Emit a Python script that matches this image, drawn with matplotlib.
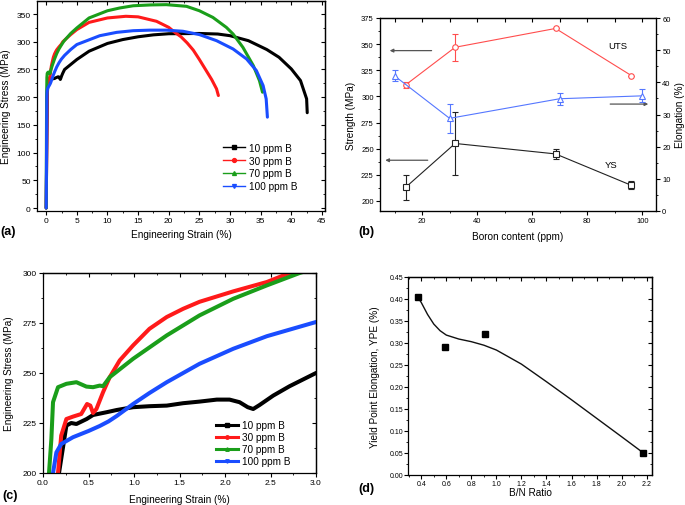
import matplotlib
matplotlib.use("Agg")
import matplotlib.pyplot as plt
from matplotlib.ticker import MultipleLocator, FormatStrFormatter
from matplotlib.lines import Line2D

plt.rcParams['font.family'] = ['Liberation Sans', 'DejaVu Sans']

# ---------------- data ----------------
series_labels = ["10 ppm B", "30 ppm B", "70 ppm B", "100 ppm B"]
series_colors = ["#000000", "#ff1a1a", "#1a9e1a", "#1a4dff"]
series_markers = ["s", "o", "^", "v"]

strain_10 = [0, 0.176, 0.257, 0.31, 0.367, 0.48, 0.55, 0.7, 0.81, 0.99, 1.17, 1.36, 1.54,
             1.72, 1.91, 2.05, 2.16, 2.25, 2.31, 2.38, 2.53, 2.71, 3.0, 4, 5, 7, 10, 12.5, 15,
             17.5, 20, 25, 28, 30, 33, 36, 38, 40, 41.5, 42.5, 42.6]
stress_10 = [0, 200, 223.7, 225, 224.5, 227, 229, 230.4, 231.5, 232.9, 233.4, 233.7, 234.9,
             235.7, 236.7, 236.7, 235.4, 232.9, 232, 234, 238.7, 243.4, 250, 259, 268, 283, 297, 304, 309,
             312.5, 314.5, 315, 314, 311, 302, 286, 272, 251, 230, 197, 172]

strain_30 = [0, 0.165, 0.2, 0.257, 0.33, 0.42, 0.484, 0.52, 0.55, 0.587, 0.66, 0.733, 0.843,
             0.99, 1.17, 1.36, 1.54, 1.72, 2.09, 2.46, 2.71, 3.0, 4, 5, 7, 10, 13, 15, 18, 20,
             21, 22, 23, 24, 25, 26, 27, 27.8, 28.1]
stress_30 = [0, 200, 218.7, 227, 228.2, 229.5, 234.5, 233.7, 230, 232, 240.4, 247.9, 256.3,
             263.8, 272.1, 278, 282.1, 285.6, 290.8, 295.5, 300, 303, 313, 322, 335, 343, 346, 345, 337, 326,
             317, 309, 298, 285, 268, 250, 232, 215, 203]

strain_70 = [0, 0.066, 0.092, 0.11, 0.165, 0.257, 0.367, 0.477, 0.55, 0.623, 0.66, 0.733, 0.99,
             1.36, 1.72, 2.09, 2.46, 2.82, 3.0, 4, 5, 7, 10, 12, 14.2, 17, 19.6, 22.9, 25, 27.2,
             29.4, 30.5, 32.1, 33.8, 34.8, 35.3]
stress_70 = [0, 200, 217, 235.4, 242.9, 244.6, 245.4, 243.2, 242.9, 243.7, 243.4, 247.9, 257.1,
             268.8, 278.8, 287.1, 293.8, 300, 302.5, 315, 325, 343, 356, 361, 365, 366.5, 367, 364, 356, 344,
             326, 314, 290, 257, 230, 209]

strain_100 = [0, 0.11, 0.147, 0.2, 0.33, 0.5, 0.623, 0.72, 0.81, 0.9, 0.99, 1.17, 1.36, 1.72, 2.09,
              2.46, 3.0, 4, 5, 8.75, 11.5, 14.2, 16.9, 19.6, 22.3, 25, 27.8, 30.5, 32.7, 34.3, 35.4,
              35.9, 36.1]
stress_100 = [0, 200, 210.3, 214.5, 217.9, 221, 223.5, 225.8, 228.5, 231.5, 234.5, 240, 245.4, 254.6, 262.1,
              268.4, 275.5, 286, 295, 311, 317, 320, 321, 321, 319, 313, 302, 287, 269, 248, 221,
              197, 164]

strains = [strain_10, strain_30, strain_70, strain_100]
stresses = [stress_10, stress_30, stress_70, stress_100]

# panel (b)
boron_strength = [14, 32, 68.5, 96]
uts = [311, 347, 365, 320]
uts_err = [2.5, 13, 0, 0]
ys = [213, 255, 245, 215]
ys_err = [12, 30, 5, 4]
boron_elong = [10, 30, 70, 100]
elong = [42, 28.8, 34.9, 35.8]
elong_err = [1.7, 4.6, 1.9, 2.0]

# panel (d)
bn_ratio = [0.37, 0.59, 0.91, 2.17]
ype = [0.405, 0.29, 0.32, 0.05]
fit_x = [0.37, 0.40, 0.45, 0.50, 0.55, 0.60, 0.70, 0.80, 0.90, 1.00, 1.20, 1.40, 1.60, 1.80, 2.00, 2.17]
fit_y = [0.405, 0.392, 0.365, 0.343, 0.328, 0.318, 0.309, 0.303, 0.295, 0.284, 0.252, 0.212, 0.171, 0.129, 0.087, 0.051]

# ---------------- figure ----------------
W, H = 685, 506
fig = plt.figure(figsize=(W / 100, H / 100), dpi=100)


def px_axes(l, t, r, b):
    return fig.add_axes([l / W, 1 - b / H, (r - l) / W, (b - t) / H])


def setup_ticks(ax, xmaj, xmin, ymaj, ymin, size, top=True, right=True, maj_len=3, pad=1.5):
    ax.xaxis.set_major_locator(MultipleLocator(xmaj))
    ax.xaxis.set_minor_locator(MultipleLocator(xmin))
    ax.yaxis.set_major_locator(MultipleLocator(ymaj))
    ax.yaxis.set_minor_locator(MultipleLocator(ymin))
    ax.tick_params(which='both', direction='out', top=False, right=False, labelsize=size, pad=pad)
    ax.tick_params(which='major', length=maj_len, width=0.8)
    ax.tick_params(which='minor', length=maj_len * 0.55, width=0.6)
    for sp in ax.spines.values():
        sp.set_linewidth(0.9)
    if top:
        sx = ax.secondary_xaxis('top')
        sx.xaxis.set_major_locator(MultipleLocator(xmaj))
        sx.xaxis.set_minor_locator(MultipleLocator(xmin))
        sx.tick_params(which='both', direction='in', labeltop=False)
        sx.tick_params(which='major', length=maj_len, width=0.8)
        sx.tick_params(which='minor', length=maj_len * 0.55, width=0.6)
        sx.spines['top'].set_linewidth(0.9)
    if right:
        sy = ax.secondary_yaxis('right')
        sy.yaxis.set_major_locator(MultipleLocator(ymaj))
        sy.yaxis.set_minor_locator(MultipleLocator(ymin))
        sy.tick_params(which='both', direction='in', labelright=False)
        sy.tick_params(which='major', length=maj_len, width=0.8)
        sy.tick_params(which='minor', length=maj_len * 0.55, width=0.6)
        sy.spines['right'].set_linewidth(0.9)


LBL = 7.2

# ---------- (a) ----------
ax_a = px_axes(37, 2, 325, 212)
for s, st, c in zip(strains, stresses, series_colors):
    ax_a.plot(s, st, color=c, lw=2.2, solid_joinstyle='round', solid_capstyle='round')
ax_a.set_xlim(-1.5, 45.5)
ax_a.set_ylim(-5.4, 373.6)
setup_ticks(ax_a, 5, 2.5, 50, 25, 6)
ax_a.set_xlabel("Engineering Strain (%)", fontsize=LBL)
ax_a.set_ylabel("Engineering Stress (MPa)", fontsize=LBL)
ax_a.xaxis.set_label_coords(0.5, -0.086)
ax_a.yaxis.set_label_coords(-0.09, 0.5)
handles_a = [Line2D([], [], color=c, lw=1.0, marker=m, markersize=2.8)
             for c, m in zip(series_colors, series_markers)]
ax_a.legend(handles_a, series_labels, loc='upper left', bbox_to_anchor=(0.645, 0.325),
            frameon=False, fontsize=LBL, handlelength=2.2, labelspacing=0.28,
            handletextpad=0.4, borderpad=0, borderaxespad=0)

# ---------- (b) ----------
ax_b = px_axes(380, 19, 656, 212)
ax_b.errorbar(boron_strength, uts, yerr=uts_err, color="#ff4d4d", lw=0.8, marker='o',
              markersize=4, mfc='white', mec="#ff4d4d", mew=0.8, capsize=2.2, elinewidth=0.8)
ax_b.errorbar(boron_strength, ys, yerr=ys_err, color="#222222", lw=0.8, marker='s',
              markersize=3.8, mfc='white', mec="#222222", mew=0.8, capsize=2.2, elinewidth=0.8)
ax_b.set_xlim(4.7, 105)
ax_b.set_ylim(190.4, 375)
ax_b.xaxis.set_major_locator(MultipleLocator(20))
ax_b.xaxis.set_minor_locator(MultipleLocator(10))
ax_b.yaxis.set_major_locator(MultipleLocator(25))
ax_b.yaxis.set_minor_locator(MultipleLocator(12.5))
ax_b.set_yticks([200, 225, 250, 275, 300, 325, 350, 375])
ax_b.tick_params(which='both', direction='out', labelsize=5.5, pad=1.5, right=False, top=False)
ax_b.tick_params(which='major', length=3, width=0.8)
ax_b.tick_params(which='minor', length=1.7, width=0.6)
for sp in ax_b.spines.values():
    sp.set_linewidth(0.9)
sxb = ax_b.secondary_xaxis('top')
sxb.xaxis.set_major_locator(MultipleLocator(10))
sxb.tick_params(which='both', direction='in', labeltop=False, length=3, width=0.8)
ax_b2 = ax_b.twinx()
ax_b2.errorbar(boron_elong, elong, yerr=elong_err, color="#5577ff", lw=0.8, marker='^',
               markersize=4.2, mfc='white', mec="#5577ff", mew=0.8, capsize=2.2, elinewidth=0.8)
ax_b2.set_ylim(0, 60)
ax_b2.yaxis.set_major_locator(MultipleLocator(10))
ax_b2.yaxis.set_minor_locator(MultipleLocator(5))
ax_b2.tick_params(which='both', direction='out', labelsize=5.5, pad=1.5)
ax_b2.tick_params(which='major', length=3, width=0.8)
ax_b2.tick_params(which='minor', length=1.7, width=0.6)
ax_b.set_xlabel("Boron content (ppm)", fontsize=LBL)
ax_b.set_ylabel("Strength (MPa)", fontsize=LBL)
ax_b2.set_ylabel("Elongation (%)", fontsize=LBL)
ax_b.xaxis.set_label_coords(0.5, -0.104)
ax_b.yaxis.set_label_coords(-0.087, 0.5)
ax_b2.yaxis.set_label_coords(1.069, 0.5)
arrow_kw = dict(arrowstyle='-|>', color='#555555', lw=0.9, mutation_scale=5)
ax_b.annotate('', xy=(0.025, 0.831), xytext=(0.197, 0.831), xycoords='axes fraction',
              textcoords='axes fraction', arrowprops=arrow_kw)
ax_b.annotate('', xy=(0.009, 0.263), xytext=(0.183, 0.263), xycoords='axes fraction',
              textcoords='axes fraction', arrowprops=arrow_kw)
ax_b.annotate('', xy=(0.982, 0.554), xytext=(0.824, 0.554), xycoords='axes fraction',
              textcoords='axes fraction', arrowprops=arrow_kw)
ax_b.text(0.826, 0.857, "UTS", transform=ax_b.transAxes, fontsize=6.8, va='center')
ax_b.text(0.815, 0.243, "YS", transform=ax_b.transAxes, fontsize=6.8, va='center')

# ---------- (c) ----------
ax_c = px_axes(43, 274, 316, 474)
for s, st, c in zip(strains, stresses, series_colors):
    ax_c.plot(s, st, color=c, lw=2.9, solid_joinstyle='round', solid_capstyle='round')
ax_c.set_xlim(0, 3.0)
ax_c.set_ylim(200, 300)
setup_ticks(ax_c, 0.5, 0.25, 25, 12.5, 6)
ax_c.xaxis.set_major_formatter(FormatStrFormatter('%.1f'))
ax_c.set_xlabel("Engineering Strain (%)", fontsize=LBL)
ax_c.set_ylabel("Engineering Stress (MPa)", fontsize=LBL)
ax_c.xaxis.set_label_coords(0.5, -0.105)
ax_c.yaxis.set_label_coords(-0.106, 0.5)
handles_c = [Line2D([], [], color=c, lw=2.2, marker=m, markersize=2.5)
             for c, m in zip(series_colors, series_markers)]
ax_c.legend(handles_c, series_labels, loc='upper left', bbox_to_anchor=(0.635, 0.265),
            frameon=False, fontsize=LBL, handlelength=2.2, labelspacing=0.2,
            handletextpad=0.4, borderpad=0, borderaxespad=0)

# ---------- (d) ----------
ax_d = px_axes(408, 278, 652, 476)
ax_d.plot(fit_x, fit_y, color='#111111', lw=1.0, solid_joinstyle='round')
ax_d.plot(bn_ratio, ype, ls='none', marker='s', markersize=3.8, color='black')
ax_d.set_xlim(0.294, 2.243)
ax_d.set_ylim(0, 0.45)
setup_ticks(ax_d, 0.2, 0.1, 0.05, 0.025, 5, maj_len=2.6, pad=0.8)
ax_d.xaxis.set_major_formatter(FormatStrFormatter('%.1f'))
ax_d.yaxis.set_major_formatter(FormatStrFormatter('%.2f'))
ax_d.set_xlabel("B/N Ratio", fontsize=LBL)
ax_d.set_ylabel("Yield Point Elongation, YPE (%)", fontsize=LBL)
ax_d.xaxis.set_label_coords(0.5, -0.062)
ax_d.yaxis.set_label_coords(-0.115, 0.5)

# panel letters
for txt, x, y in [("(a)", 0.5, 232), ("(b)", 358, 231.5), ("(c)", 2, 496.5), ("(d)", 358, 489.5)]:
    fig.text(x / W, 1 - y / H, txt, fontsize=9, fontweight='bold', va='center', ha='left')

fig.savefig("out.png", dpi=100)
